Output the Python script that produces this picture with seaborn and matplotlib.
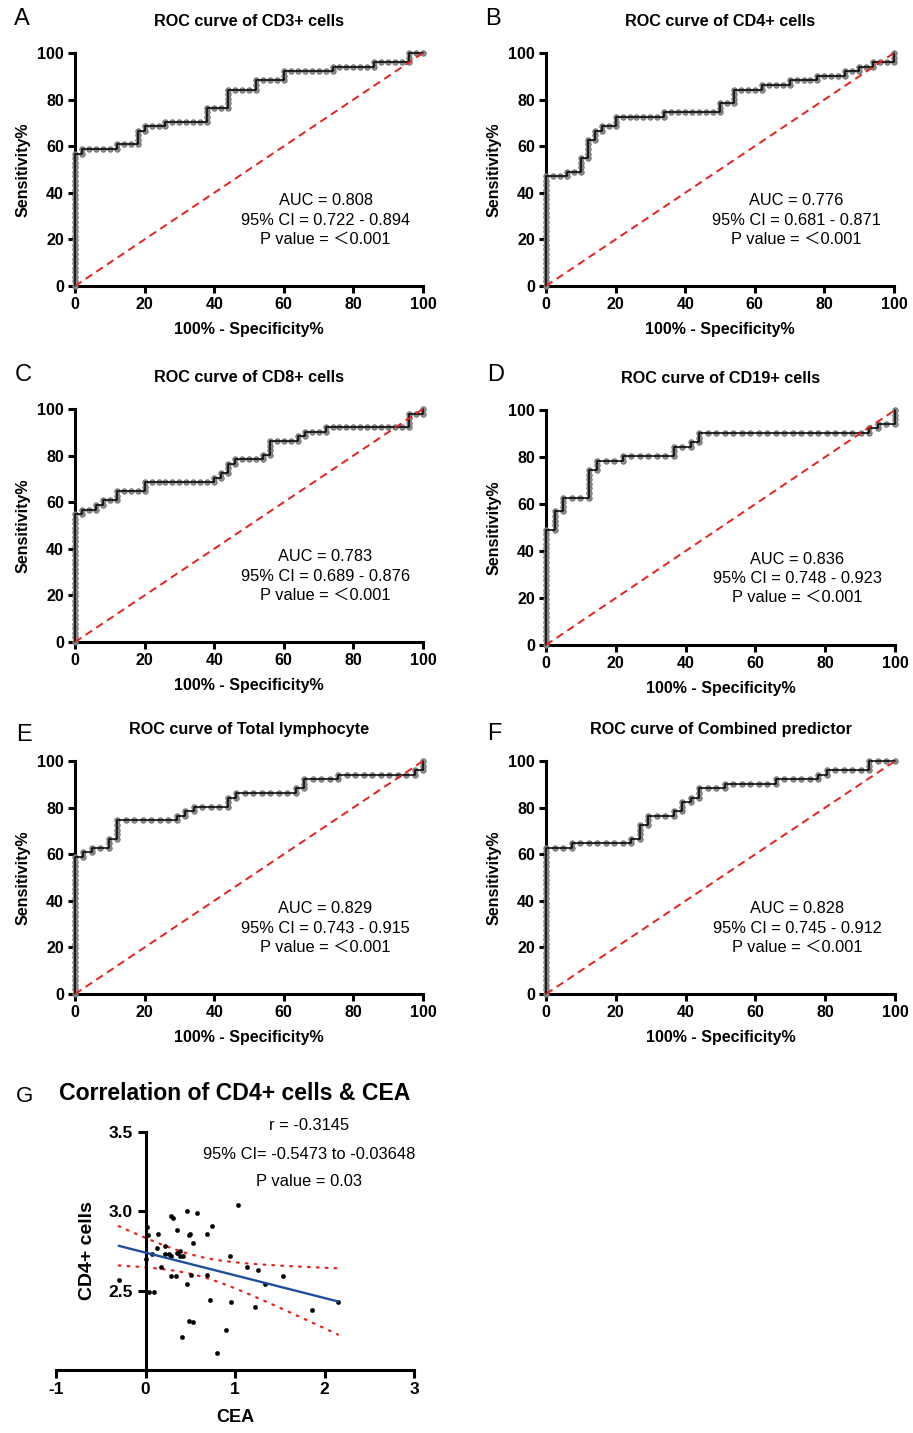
import numpy as np
import pandas as pd
import matplotlib
matplotlib.use("Agg")
import matplotlib.pyplot as plt
import seaborn as sns

# --- ROC data: one point per cut-off, as subject counts (false pos / true pos) ---
n_case = 51
n_ctrl = [50, 50, 50, 41, 41, 41]

A_fp = [0, 0, 0, 0, 0, 0, 0, 0, 0, 0, 0, 0, 0, 0, 0, 0, 0, 0, 0, 0, 0, 0, 0, 0, 0, 0, 0, 0, 0, 0,
        1, 1, 2, 3, 4, 5, 6, 6, 7, 8, 9, 9, 9, 9, 10, 10, 11, 12, 13, 13,
        14, 15, 16, 17, 18, 19, 19, 19, 19, 20, 21, 22, 22, 22, 22, 22, 23, 24, 25, 26,
        26, 26, 27, 28, 29, 30, 30, 30, 31, 32, 33, 34, 35, 36, 37, 37, 38, 39, 40, 41,
        42, 43, 43, 44, 45, 46, 47, 48, 48, 48, 49, 50]
A_tp = [0, 1, 2, 3, 4, 5, 6, 7, 8, 9, 10, 11, 12, 13, 14, 15, 16, 17, 18, 19, 20, 21, 22, 23, 24, 25, 26, 27, 28, 29,
        29, 30, 30, 30, 30, 30, 30, 31, 31, 31, 31, 32, 33, 34, 34, 35, 35, 35, 35, 36,
        36, 36, 36, 36, 36, 36, 37, 38, 39, 39, 39, 39, 40, 41, 42, 43, 43, 43, 43, 43,
        44, 45, 45, 45, 45, 45, 46, 47, 47, 47, 47, 47, 47, 47, 47, 48, 48, 48, 48, 48,
        48, 48, 49, 49, 49, 49, 49, 49, 50, 51, 51, 51]

B_fp = [0, 0, 0, 0, 0, 0, 0, 0, 0, 0, 0, 0, 0, 0, 0, 0, 0, 0, 0, 0, 0, 0, 0, 0, 0,
        1, 2, 3, 3, 4, 5, 5, 5, 5, 6, 6, 6, 6, 6, 7, 7, 7, 8, 8, 9,
        10, 10, 10, 11, 12, 13, 14, 15, 16, 17, 17, 18, 19, 20, 21, 22, 23, 24, 25, 25,
        25, 26, 27, 27, 27, 27, 28, 29, 30, 31, 31, 32, 33, 34, 35, 35, 36, 37, 38, 39,
        39, 40, 41, 42, 43, 43, 44, 45, 45, 46, 47, 47, 48, 49, 50, 50, 50]
B_tp = [0, 1, 2, 3, 4, 5, 6, 7, 8, 9, 10, 11, 12, 13, 14, 15, 16, 17, 18, 19, 20, 21, 22, 23, 24,
        24, 24, 24, 25, 25, 25, 26, 27, 28, 28, 29, 30, 31, 32, 32, 33, 34, 34, 35, 35,
        35, 36, 37, 37, 37, 37, 37, 37, 37, 37, 38, 38, 38, 38, 38, 38, 38, 38, 38, 39,
        40, 40, 40, 41, 42, 43, 43, 43, 43, 43, 44, 44, 44, 44, 44, 45, 45, 45, 45, 45,
        46, 46, 46, 46, 46, 47, 47, 47, 48, 48, 48, 49, 49, 49, 49, 50, 51]

C_fp = [0, 0, 0, 0, 0, 0, 0, 0, 0, 0, 0, 0, 0, 0, 0, 0, 0, 0, 0, 0, 0, 0, 0, 0, 0, 0, 0, 0, 0,
        1, 1, 2, 3, 3, 4, 4, 5, 6, 6, 6, 7, 8, 9, 10, 10, 10, 11, 12, 13,
        14, 15, 16, 17, 18, 19, 20, 20, 21, 21, 22, 22, 22, 23, 23, 24, 25, 26, 27, 27,
        28, 28, 28, 28, 29, 30, 31, 32, 32, 33, 33, 34, 35, 36, 36, 37, 38, 39, 40, 41,
        42, 43, 44, 45, 46, 47, 48, 48, 48, 48, 49, 50, 50]
C_tp = [0, 1, 2, 3, 4, 5, 6, 7, 8, 9, 10, 11, 12, 13, 14, 15, 16, 17, 18, 19, 20, 21, 22, 23, 24, 25, 26, 27, 28,
        28, 29, 29, 29, 30, 30, 31, 31, 31, 32, 33, 33, 33, 33, 33, 34, 35, 35, 35, 35,
        35, 35, 35, 35, 35, 35, 35, 36, 36, 37, 37, 38, 39, 39, 40, 40, 40, 40, 40, 41,
        41, 42, 43, 44, 44, 44, 44, 44, 45, 45, 46, 46, 46, 46, 47, 47, 47, 47, 47, 47,
        47, 47, 47, 47, 47, 47, 47, 48, 49, 50, 50, 50, 51]

D_fp = [0, 0, 0, 0, 0, 0, 0, 0, 0, 0, 0, 0, 0, 0, 0, 0, 0, 0, 0, 0, 0, 0, 0, 0, 0, 0,
        1, 1, 1, 1, 1, 2, 2, 2, 2, 3, 4, 5, 5, 5, 5, 5, 5, 5, 6, 6,
        6, 7, 8, 9, 9, 10, 11, 12, 13, 14, 15, 15, 15, 16, 17, 17, 18, 18, 18, 19,
        20, 21, 22, 23, 24, 25, 26, 27, 28, 29, 30, 31, 32, 33, 34, 35, 36, 37, 38, 38,
        39, 39, 40, 41, 41, 41, 41]
D_tp = [0, 1, 2, 3, 4, 5, 6, 7, 8, 9, 10, 11, 12, 13, 14, 15, 16, 17, 18, 19, 20, 21, 22, 23, 24, 25,
        25, 26, 27, 28, 29, 29, 30, 31, 32, 32, 32, 32, 33, 34, 35, 36, 37, 38, 38, 39,
        40, 40, 40, 40, 41, 41, 41, 41, 41, 41, 41, 42, 43, 43, 43, 44, 44, 45, 46, 46,
        46, 46, 46, 46, 46, 46, 46, 46, 46, 46, 46, 46, 46, 46, 46, 46, 46, 46, 46, 47,
        47, 48, 48, 48, 49, 50, 51]

E_fp = [0, 0, 0, 0, 0, 0, 0, 0, 0, 0, 0, 0, 0, 0, 0, 0, 0, 0, 0, 0, 0, 0, 0, 0, 0, 0, 0, 0, 0, 0, 0,
        1, 1, 2, 2, 3, 4, 4, 4, 5, 5, 5, 5, 5, 6, 7, 8, 9, 10, 11, 12,
        12, 13, 13, 14, 14, 15, 16, 17, 18, 18, 18, 19, 19, 20, 21, 22, 23, 24, 25, 26,
        26, 27, 27, 27, 28, 29, 30, 31, 31, 32, 33, 34, 35, 36, 37, 38, 39, 40, 40, 41,
        41, 41]
E_tp = [0, 1, 2, 3, 4, 5, 6, 7, 8, 9, 10, 11, 12, 13, 14, 15, 16, 17, 18, 19, 20, 21, 22, 23, 24, 25, 26, 27, 28, 29, 30,
        30, 31, 31, 32, 32, 32, 33, 34, 34, 35, 36, 37, 38, 38, 38, 38, 38, 38, 38, 38,
        39, 39, 40, 40, 41, 41, 41, 41, 41, 42, 43, 43, 44, 44, 44, 44, 44, 44, 44, 44,
        45, 45, 46, 47, 47, 47, 47, 47, 48, 48, 48, 48, 48, 48, 48, 48, 48, 48, 49, 49,
        50, 51]

F_fp = [0, 0, 0, 0, 0, 0, 0, 0, 0, 0, 0, 0, 0, 0, 0, 0, 0, 0, 0, 0, 0, 0, 0, 0, 0, 0, 0, 0, 0, 0, 0, 0, 0,
        1, 2, 3, 3, 4, 5, 6, 7, 8, 9, 10, 10, 11, 11, 11, 11, 12, 12, 12, 13,
        14, 15, 15, 16, 16, 16, 17, 17, 18, 18, 18, 19, 20, 21, 21, 22, 23, 24, 25, 26,
        27, 27, 28, 29, 30, 31, 32, 32, 33, 33, 34, 35, 36, 37, 38, 38, 38, 39, 40, 41]
F_tp = [0, 1, 2, 3, 4, 5, 6, 7, 8, 9, 10, 11, 12, 13, 14, 15, 16, 17, 18, 19, 20, 21, 22, 23, 24, 25, 26, 27, 28, 29, 30, 31, 32,
        32, 32, 32, 33, 33, 33, 33, 33, 33, 33, 33, 34, 34, 35, 36, 37, 37, 38, 39, 39,
        39, 39, 40, 40, 41, 42, 42, 43, 43, 44, 45, 45, 45, 45, 46, 46, 46, 46, 46, 46,
        46, 47, 47, 47, 47, 47, 47, 48, 48, 49, 49, 49, 49, 49, 49, 50, 51, 51, 51, 51]

roc_fp = [A_fp, B_fp, C_fp, D_fp, E_fp, F_fp]
roc_tp = [A_tp, B_tp, C_tp, D_tp, E_tp, F_tp]
letters = ["A", "B", "C", "D", "E", "F"]
titles = ["ROC curve of CD3+ cells", "ROC curve of CD4+ cells", "ROC curve of CD8+ cells",
          "ROC curve of CD19+ cells", "ROC curve of Total lymphocyte", "ROC curve of Combined predictor"]
auc = ["0.808", "0.776", "0.783", "0.836", "0.829", "0.828"]
ci_low = ["0.722", "0.681", "0.689", "0.748", "0.743", "0.745"]
ci_high = ["0.894", "0.871", "0.876", "0.923", "0.915", "0.912"]
p_text = "＜0.001"
chance = [0, 100]

# --- Correlation CD4+ vs CEA ---
cea = [-0.30, 0.02, 0.03, 0.01, 0.07, 0.04, 0.09, 0.14, 0.13, 0.17, 0.22, 0.22, 0.26, 0.28,
       0.29, 0.31, 0.29, 0.34, 0.35, 0.35, 0.39, 0.38, 0.42, 0.41, 0.46, 0.46, 0.49, 0.50,
       0.51, 0.53, 0.49, 0.53, 0.58, 0.69, 0.74, 0.69, 0.72, 0.80, 0.90, 0.94, 0.95, 1.03,
       1.13, 1.22, 1.26, 1.33, 1.54, 1.86, 2.15]
cd4 = [2.57, 2.90, 2.85, 2.70, 2.73, 2.49, 2.49, 2.86, 2.77, 2.65, 2.78, 2.73, 2.73, 2.72,
       2.97, 2.96, 2.59, 2.59, 2.88, 2.74, 2.75, 2.72, 2.72, 2.21, 3.00, 2.54, 2.85, 2.86,
       2.60, 2.80, 2.31, 2.30, 2.99, 2.86, 2.91, 2.60, 2.44, 2.11, 2.25, 2.72, 2.43, 3.04,
       2.65, 2.40, 2.63, 2.54, 2.59, 2.38, 2.43]
corr_lines = ["r = -0.3145", "95% CI= -0.5473 to -0.03648", "P value = 0.03"]
t95 = 2.012

sns.set_style("ticks")
plt.rcParams["font.family"] = ["Liberation Sans", "Noto Sans CJK SC", "DejaVu Sans"]
plt.rcParams["axes.linewidth"] = 2.2
plt.rcParams["axes.unicode_minus"] = False
for key in ["text.color", "axes.labelcolor", "axes.edgecolor", "xtick.color", "ytick.color"]:
    plt.rcParams[key] = "black"

W, H = 913, 1433
fig = plt.figure(figsize=(W / 100, H / 100), dpi=100)


def box(l, t, r, b):
    return [l / W, 1 - b / H, (r - l) / W, (b - t) / H]


roc_boxes = [box(75, 53, 423, 286), box(546, 53, 894, 286),
             box(75, 409, 423, 642), box(546, 410, 895, 645),
             box(75, 761, 423, 994), box(546, 761, 895, 994)]
letter_pos = [(22, 19), (493, 19), (23, 375), (496, 375), (24, 735), (494, 734)]

for i in range(6):
    ax = fig.add_axes(roc_boxes[i])
    df = pd.DataFrame({"fpr": np.array(roc_fp[i]) / n_ctrl[i] * 100,
                       "tpr": np.array(roc_tp[i]) / n_case * 100})
    sns.scatterplot(data=df, x="fpr", y="tpr", ax=ax, color="#8a8a8a", edgecolor="#6a6a6a",
                    linewidth=0.5, s=16, clip_on=False, zorder=3)
    sns.lineplot(data=df, x="fpr", y="tpr", ax=ax, estimator=None, sort=False,
                 color="black", lw=1.1, clip_on=False, zorder=4)
    sns.lineplot(x=chance, y=chance, ax=ax, color="#e8201c", lw=1.4,
                 linestyle=(0, (4, 2.6)), zorder=5)
    ax.set_xlim(0, 100)
    ax.set_ylim(0, 100)
    ax.set_xticks(range(0, 101, 20))
    ax.set_yticks(range(0, 101, 20))
    sns.despine(ax=ax)
    ax.tick_params(direction="out", length=5, width=2.2, labelsize=11.5, pad=3)
    for lab in ax.get_xticklabels() + ax.get_yticklabels():
        lab.set_fontweight("bold")
    ax.set_xlabel("100% - Specificity%", fontsize=11.5, fontweight="bold", labelpad=7)
    ax.set_ylabel("Sensitivity%", fontsize=11.5, fontweight="bold", labelpad=5)
    ax.text(0.5, 1 + 31 / 233, titles[i], transform=ax.transAxes, ha="center", va="center",
            fontsize=11.7, fontweight="bold")
    ax.text(72, 36.5, "AUC = " + auc[i], ha="center", va="center", fontsize=11.8)
    ax.text(72, 28.3, "95% CI = " + ci_low[i] + " - " + ci_high[i], ha="center", va="center", fontsize=11.8)
    ax.text(72, 20.2, "P value = " + p_text, ha="center", va="center", fontsize=11.8)
    lx, ly = letter_pos[i]
    fig.text(lx / W, 1 - ly / H, letters[i], ha="center", va="center", fontsize=17)

# --- panel G ---
axg = fig.add_axes(box(56, 1132, 414, 1370))
x = np.array(cea)
y = np.array(cd4)
sns.scatterplot(x=x, y=y, ax=axg, color="black", edgecolor="black", s=10, zorder=3, clip_on=False)
sns.regplot(x=x, y=y, ax=axg, scatter=False, ci=None, truncate=True, color="#1f4e9c",
            line_kws={"lw": 1.7, "zorder": 4})

slope, icpt = np.polyfit(x, y, 1)
n = len(x)
resid = y - (slope * x + icpt)
s_err = np.sqrt((resid ** 2).sum() / (n - 2))
sxx = ((x - x.mean()) ** 2).sum()
xs = np.linspace(x.min(), x.max(), 100)
fit = slope * xs + icpt
half = t95 * s_err * np.sqrt(1 / n + (xs - x.mean()) ** 2 / sxx)
for band in (fit + half, fit - half):
    sns.lineplot(x=xs, y=band, ax=axg, color="#e8201c", lw=1.6, linestyle=(0, (0.8, 3.2)),
                 dash_capstyle="round", zorder=2)

axg.set_xlim(-1, 3)
axg.set_ylim(2.0, 3.5)
axg.set_xticks([-1, 0, 1, 2, 3])
axg.set_yticks([2.5, 3.0, 3.5])
sns.despine(ax=axg)
axg.spines["left"].set_position(("data", 0))
axg.tick_params(direction="out", length=6, width=2.2, labelsize=12.5, pad=3)
for lab in axg.get_xticklabels() + axg.get_yticklabels():
    lab.set_fontweight("bold")
axg.set_xlabel("CEA", fontsize=13, fontweight="bold", labelpad=8)
fig.text(87 / W, 1 - 1251 / H, "CD4+ cells", rotation=90, ha="center", va="center",
         fontsize=14, fontweight="bold")
for k, yy in enumerate([3.54, 3.36, 3.19]):
    axg.text(1.83, yy, corr_lines[k], ha="center", va="center", fontsize=11.9)
axg.text(0.5, 1 + 38 / 238, "Correlation of CD4+ cells & CEA", transform=axg.transAxes,
         ha="center", va="center", fontsize=16.6, fontweight="bold")
fig.text(24 / W, 1 - 1096 / H, "G", ha="center", va="center", fontsize=16)

fig.savefig("out.png", dpi=100)
